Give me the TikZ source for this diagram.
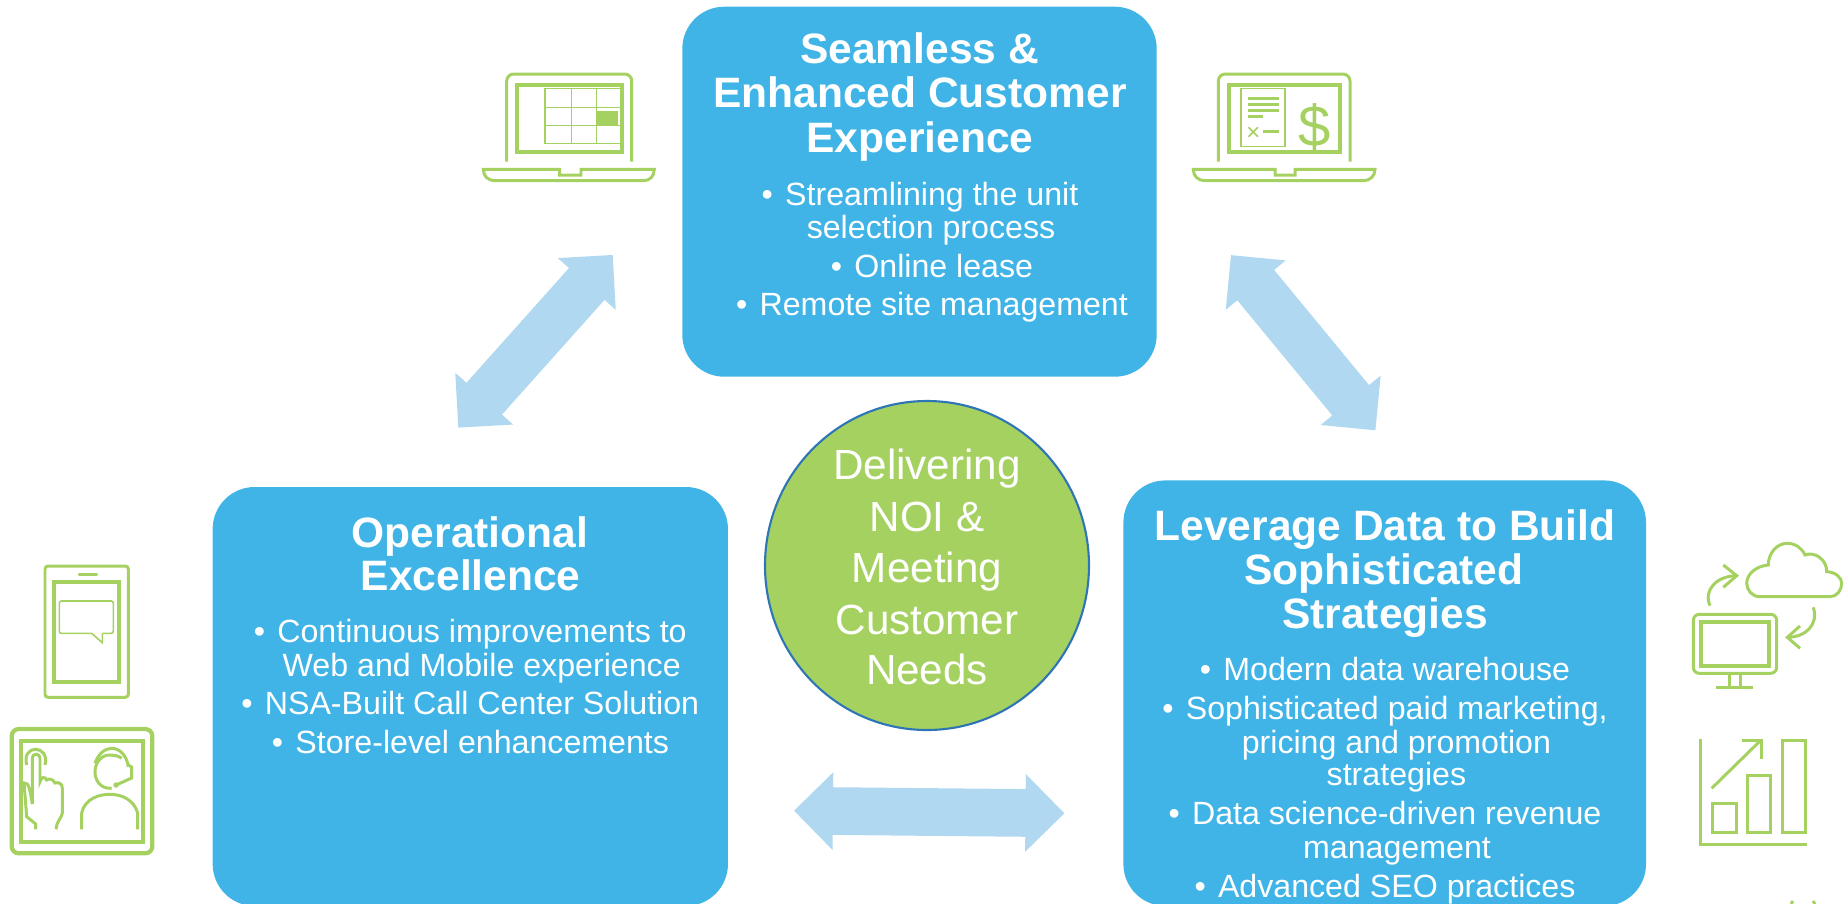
\documentclass[tikz,border=0pt]{standalone}
\usepackage{fontspec}
\setmainfont{Liberation Sans}
\usetikzlibrary{shapes.arrows,shapes.geometric}
\definecolor{boxblue}{RGB}{64,180,230}
\definecolor{linkblue}{RGB}{176,216,241}
\definecolor{leafgreen}{RGB}{165,209,96}
\definecolor{rimblue}{RGB}{46,117,182}
\newcommand{\bul}{\textbullet\hspace{.38em}}
\tikzset{
  infobox/.style={fill=boxblue,rounded corners=.42cm,inner sep=0pt},
  hubnode/.style={ellipse,fill=leafgreen,draw=rimblue,line width=.6pt,inner sep=0pt,minimum width=3.24cm,minimum height=3.29cm},
  dblarrow/.style={double arrow,fill=linkblue,inner sep=0pt,text height=.463cm,text depth=0pt,double arrow head extend=.15cm},
  headtxt/.style={anchor=base,inner sep=0pt,text=white,font=\fontsize{12.1}{14}\selectfont\bfseries},
  itemtxt/.style={anchor=base,inner sep=0pt,text=white,font=\fontsize{9.15}{11}\selectfont},
  hubtxt/.style={anchor=base,inner sep=0pt,text=white,font=\fontsize{12}{14}\selectfont},
  iconline/.style={draw=leafgreen,line width=.85pt},
  iconthick/.style={draw=leafgreen,line width=1.2pt},
  iconthin/.style={draw=leafgreen,line width=.45pt}
}
\begin{document}
\begin{tikzpicture}[x=1cm,y=-1cm]
    \useasboundingbox (0,0) rectangle (18.47,9.03);
    \clip (0,0) rectangle (18.47,9.03);
    % boxes and hub
    \node[infobox,minimum width=4.744cm,minimum height=3.70cm] (topbox) at (9.195,1.917) {};
    \node[infobox,minimum width=5.153cm,minimum height=4.19cm] (leftbox) at (4.703,6.965) {};
    \node[infobox,minimum width=5.226cm,minimum height=4.256cm] (rightbox) at (13.847,6.932) {};
    \node[hubnode] (hub) at (9.27,5.655) {};
    % links
    \node[dblarrow,minimum height=2.316cm,rotate=48.2] (linkleft) at (5.355,3.413) {};
    \node[dblarrow,minimum height=2.27cm,rotate=-50.5] (linkright) at (13.032,3.427) {};
    \node[dblarrow,minimum height=2.703cm,rotate=-.55] (linkbottom) at (9.292,8.12) {};
    % top box text
    \node[headtxt] (ta) at (9.195,.63) {Seamless \&};
    \node[headtxt] (tb) at (9.2,1.07) {Enhanced Customer};
    \node[headtxt] (tc) at (9.2,1.52) {Experience};
    \node[itemtxt] (td) at (9.2,2.052) {\bul Streamlining the unit};
    \node[itemtxt] (te) at (9.31,2.382) {selection process};
    \node[itemtxt] (tf) at (9.32,2.772) {\bul Online lease};
    \node[itemtxt] (tg) at (9.32,3.152) {\bul Remote site management};
    % left box text
    \node[headtxt] (la) at (4.70,5.472) {Operational};
    \node[headtxt] (lb) at (4.707,5.905) {Excellence};
    \node[itemtxt] (lc) at (4.703,6.425) {\bul Continuous improvements to};
    \node[itemtxt] (ld) at (4.817,6.765) {Web and Mobile experience};
    \node[itemtxt] (le) at (4.703,7.145) {\bul NSA-Built Call Center Solution};
    \node[itemtxt] (lf) at (4.705,7.535) {\bul Store-level enhancements};
    % right box text
    \node[headtxt] (ra) at (13.85,5.405) {Leverage Data to Build};
    \node[headtxt] (rb) at (13.84,5.845) {Sophisticated};
    \node[headtxt] (rc) at (13.85,6.285) {Strategies};
    \node[itemtxt] (rd) at (13.85,6.802) {\bul Modern data warehouse};
    \node[itemtxt] (re) at (13.85,7.192) {\bul Sophisticated paid marketing,};
    \node[itemtxt] (rf) at (13.964,7.532) {pricing and promotion};
    \node[itemtxt] (rg) at (13.964,7.852) {strategies};
    \node[itemtxt] (rh) at (13.85,8.245) {\bul Data science-driven revenue};
    \node[itemtxt] (ri) at (13.97,8.582) {management};
    \node[itemtxt] (rj) at (13.85,8.972) {\bul Advanced SEO practices};
    % hub text
    \node[hubtxt] (ha) at (9.27,4.79) {Delivering};
    \node[hubtxt] (hb) at (9.27,5.31) {NOI \&};
    \node[hubtxt] (hc) at (9.27,5.82) {Meeting};
    \node[hubtxt] (hd) at (9.27,6.34) {Customer};
    \node[hubtxt] (he) at (9.27,6.84) {Needs};
    % laptop with grid
    \draw[iconline,rounded corners=.07cm] (5.067,1.617)--(5.067,.74)--(6.317,.74)--(6.317,1.617);
    \draw[iconthick] (5.167,.85) rectangle (6.217,1.517);
    \draw[iconthin] (5.45,.883) rectangle (6.233,1.433);
    \draw[iconthin] (5.717,.883)--(5.717,1.433);
    \draw[iconthin] (5.967,.883)--(5.967,1.433);
    \draw[iconthin] (5.45,1.073)--(6.233,1.073);
    \draw[iconthin] (5.45,1.253)--(6.233,1.253);
    \fill[leafgreen] (5.967,1.11) rectangle (6.183,1.253);
    \draw[iconline] (4.833,1.693)--(5.597,1.693)--(5.597,1.75)--(5.81,1.75)--(5.81,1.693)--(6.543,1.693)
      .. controls (6.543,1.76) and (6.50,1.807) .. (6.433,1.807)--(4.95,1.807)
      .. controls (4.88,1.807) and (4.833,1.76) .. (4.833,1.693)--cycle;
    % laptop with invoice
    \draw[iconline,rounded corners=.07cm] (12.183,1.617)--(12.183,.74)--(13.50,.74)--(13.50,1.617);
    \draw[iconthick] (12.29,.85) rectangle (13.40,1.523);
    \draw[iconthin] (12.41,.883) rectangle (12.85,1.467);
    \draw[iconline] (12.483,.987)--(12.79,.987);
    \draw[iconline] (12.483,1.047)--(12.79,1.047);
    \draw[iconline] (12.483,1.107)--(12.79,1.107);
    \draw[iconline] (12.483,1.167)--(12.633,1.167);
    \draw[iconthin] (12.486,1.273)--(12.58,1.367);
    \draw[iconthin] (12.58,1.273)--(12.486,1.367);
    \draw[iconline] (12.633,1.317)--(12.79,1.317);
    \node[anchor=base,inner sep=0pt,text=leafgreen,font=\fontsize{16.5}{18}\selectfont] (dollar) at (13.143,1.46) {\$};
    \draw[iconline] (11.933,1.693)--(12.75,1.693)--(12.75,1.75)--(12.95,1.75)--(12.95,1.693)--(13.75,1.693)
      .. controls (13.75,1.76) and (13.70,1.807) .. (13.633,1.807)--(12.05,1.807)
      .. controls (11.98,1.807) and (11.933,1.76) .. (11.933,1.693)--cycle;
    % phone
    \draw[iconline,rounded corners=.03cm] (.45,5.66) rectangle (1.283,6.973);
    \draw[iconline,line cap=round] (.79,5.74)--(.967,5.74);
    \draw[iconthick] (.543,5.817) rectangle (1.193,6.817);
    \draw[iconthin,rounded corners=.02cm] (.917,6.333)--(.593,6.333)--(.593,6.01)--(1.133,6.01)--(1.133,6.333)--(1.023,6.333);
    \draw[iconthin] (.917,6.333)--(1.023,6.427)--(1.023,6.333);
    % tablet with hand and agent
    \draw[iconthick,rounded corners=.07cm] (.117,7.29) rectangle (1.523,8.533);
    \draw[iconthick] (.207,7.407) rectangle (1.433,8.417);
    \draw[iconline] (.267,7.65) .. controls (.21,7.44) and (.50,7.44) .. (.45,7.65);
    \draw[iconline] (.323,8.04)--(.323,7.58) .. controls (.323,7.53) and (.40,7.53) .. (.40,7.58)--(.40,7.817)
      .. controls (.41,7.77) and (.45,7.76) .. (.467,7.80) .. controls (.49,7.78) and (.53,7.79) .. (.55,7.83)
      .. controls (.58,7.82) and (.623,7.83) .. (.623,7.88)--(.623,8.13) .. controls (.623,8.17) and (.56,8.22) .. (.56,8.293);
    \draw[iconline] (.323,8.04) .. controls (.30,7.90) and (.29,7.82) .. (.24,7.83)--(.267,8.167)--(.357,8.24)--(.357,8.293);
    \draw[iconline] (1.117,7.883) .. controls (1.0,7.89) and (.95,7.80) .. (.95,7.717)
      .. controls (.95,7.62) and (1.02,7.55) .. (1.093,7.55) .. controls (1.14,7.55) and (1.19,7.56) .. (1.217,7.583);
    \draw[iconline] (.95,7.633) .. controls (.98,7.54) and (1.05,7.483) .. (1.117,7.483)
      .. controls (1.20,7.483) and (1.27,7.56) .. (1.283,7.667);
    \draw[iconline] (1.283,7.65)--(1.317,7.67)--(1.317,7.78)--(1.16,7.85);
    \fill[leafgreen] (1.16,7.85) circle[radius=.027cm];
    \draw[iconline] (.817,8.293)--(.817,8.13) .. controls (.85,7.98) and (1.0,7.943) .. (1.10,7.943)
      .. controls (1.22,7.943) and (1.34,8.0) .. (1.377,8.13)--(1.377,8.293);
    % cloud and monitor
    \draw[iconline] (17.60,5.967) .. controls (17.52,5.967) and (17.467,5.90) .. (17.467,5.833)
      .. controls (17.467,5.74) and (17.56,5.66) .. (17.683,5.65) .. controls (17.683,5.52) and (17.78,5.433) .. (17.87,5.433)
      .. controls (17.95,5.433) and (18.02,5.48) .. (18.05,5.55) .. controls (18.15,5.51) and (18.27,5.60) .. (18.267,5.717)
      .. controls (18.36,5.72) and (18.417,5.78) .. (18.417,5.833) .. controls (18.417,5.90) and (18.37,5.967) .. (18.30,5.967)--cycle;
    \draw[iconline] (17.10,6.057) .. controls (17.03,5.90) and (17.17,5.757) .. (17.367,5.757);
    \draw[iconline] (17.233,5.65)--(17.367,5.757)--(17.233,5.873);
    \draw[iconline] (18.133,6.073) .. controls (18.19,6.25) and (18.05,6.373) .. (17.873,6.373);
    \draw[iconline] (18.0,6.26)--(17.873,6.373)--(18.0,6.483);
    \draw[iconline,rounded corners=.06cm] (16.933,6.143) rectangle (17.767,6.733);
    \draw[iconthick] (17.01,6.217) rectangle (17.69,6.657);
    \draw[iconline] (17.29,6.733)--(17.29,6.867);
    \draw[iconline] (17.40,6.733)--(17.40,6.867);
    \draw[iconline] (17.16,6.873)--(17.533,6.873);
    % bar chart
    \draw[iconline] (17.007,7.39)--(17.007,8.443)--(18.067,8.443);
    \draw[iconline] (17.127,8.033) rectangle (17.36,8.323);
    \draw[iconline] (17.477,7.75) rectangle (17.707,8.323);
    \draw[iconline] (17.823,7.40) rectangle (18.057,8.323);
    \draw[iconline] (17.117,7.883)--(17.61,7.40);
    \draw[iconline] (17.417,7.40)--(17.61,7.40)--(17.61,7.593);
    % cut off at the lower edge
    \draw[iconline] (17.91,9.04)--(17.93,9.01);
    \draw[iconline] (18.13,9.01)--(18.15,9.04);
  \end{tikzpicture}
\end{document}
